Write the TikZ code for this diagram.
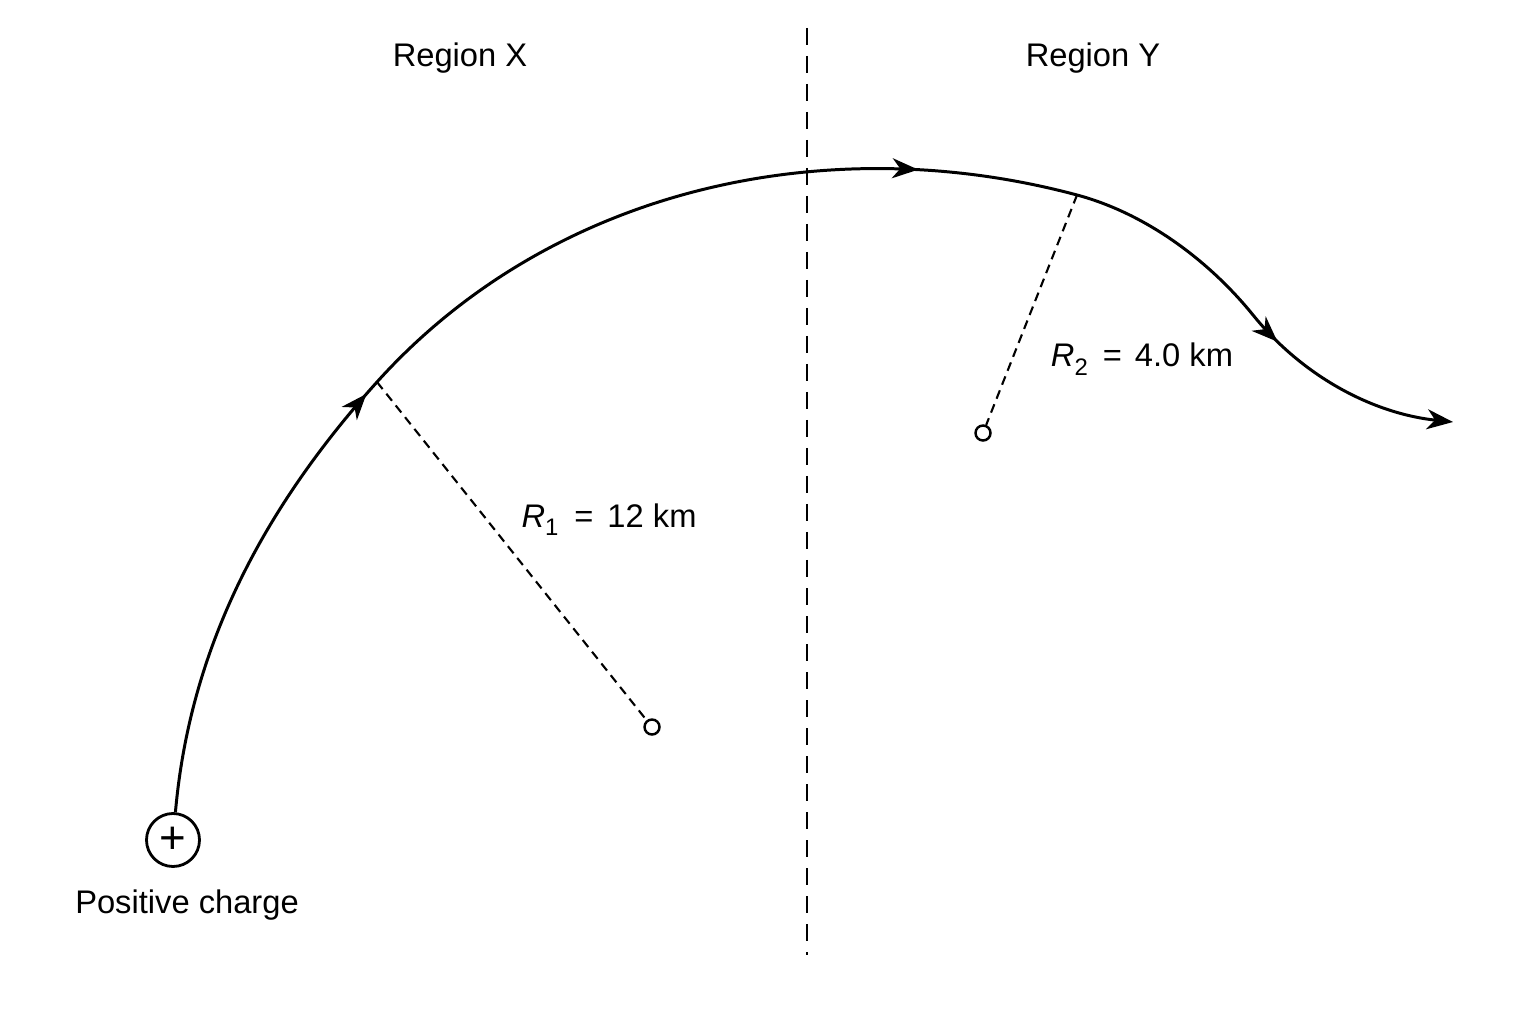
\documentclass[tikz,border=0pt]{standalone}
\usepackage{fontspec}
\setmainfont{Liberation Sans}
\usetikzlibrary{arrows.meta, decorations.markings, positioning}
\newcommand{\lowsub}[1]{\raisebox{-2.3pt}{\fontsize{6.8}{8}\selectfont #1}}
\tikzset{
  charge/.style={draw, circle, line width=0.8pt, minimum size=0.53cm, inner sep=0pt,
    font=\fontsize{13}{13}\selectfont},
  centre/.style={draw, circle, line width=0.7pt, minimum size=0.15cm, inner sep=0pt},
  radius line/.style={line width=0.6pt, dash pattern=on 0.09cm off 0.06cm},
  boundary/.style={line width=0.8pt, dash pattern=on 0.17cm off 0.11cm},
  trajectory/.style={line width=0.85pt, ->, postaction={decorate},
    decoration={markings,
      mark=at position 0.276 with {\arrow{>}},
      mark=at position 0.640 with {\arrow{>}},
      mark=at position 0.884 with {\arrow{>}}}},
  label/.style={font=\fontsize{9.3}{11}\selectfont, anchor=base}
}

\begin{document}
\begin{tikzpicture}[>={Stealth[length=0.26cm, width=0.2cm, inset=0.08cm]}]
  \useasboundingbox (0,0) rectangle (15.36,10.24);

  % regions
  \coordinate (btop) at (8.07,9.96);
  \coordinate (bbottom) at (8.07,0.69);
  \draw[boundary] (btop) -- (bbottom);
  \node[label] (regionX) at (4.60,9.57) {Region X};
  \node[label] (regionY) at (10.93,9.57) {Region Y};

  % charge and its path
  \node[charge] (charge) at (1.73,1.84) {+};
  \node[label, anchor=north] (chargelabel) [below=0.09cm of charge, xshift=0.14cm] {Positive charge};

  \coordinate (foot1) at (3.77,6.42);
  \coordinate (foot2) at (10.77,8.29);
  \coordinate (bend) at (12.53,7.09);
  \coordinate (exit) at (14.53,6.02);

  \draw[trajectory] (charge) to[out=85, in=228, looseness=0.9] (foot1)
    to[out=48, in=165, looseness=0.92] (foot2)
    to[out=-15, in=129, looseness=0.85] (bend) to[out=-51, in=174, looseness=0.9] (exit);

  % centres of curvature
  \node[centre] (centre1) at (6.52,2.97) {};
  \node[centre] (centre2) at (9.83,5.91) {};
  \draw[radius line] (foot1) -- (centre1);
  \draw[radius line] (foot2) -- (centre2);
  \node[label] (rone) at (6.09,4.97) {\textit{R}\lowsub{1}\hspace{0.16cm}=\hspace{0.14cm}12 km};
  \node[label] (rtwo) at (11.42,6.57) {\textit{R}\lowsub{2}\hspace{0.15cm}=\hspace{0.13cm}4.0 km};
\end{tikzpicture}
\end{document}
